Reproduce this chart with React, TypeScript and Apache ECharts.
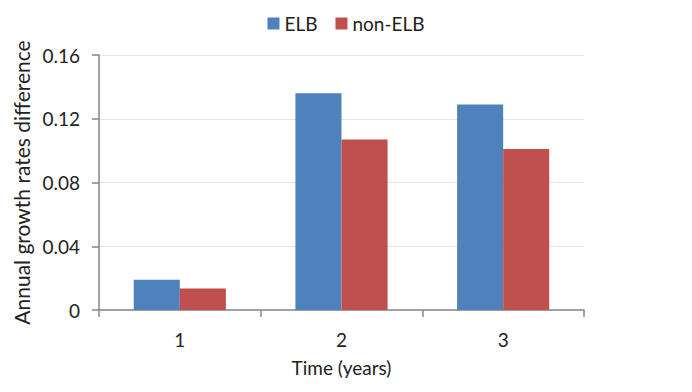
import React, { useEffect, useRef } from "react";
import * as echarts from "echarts";

const categories = ["1", "2", "3"];
const elb = [0.019, 0.136, 0.129];
const nonElb = [0.0135, 0.107, 0.101];
const yTicks = [0, 0.04, 0.08, 0.12, 0.16];

export default function App() {
  const ref = useRef<HTMLDivElement>(null);
  useEffect(() => {
    if (!ref.current) return;
    const chart = echarts.init(ref.current, null, { renderer: "svg" });
    const font = "Lato, 'Open Sans', sans-serif";
    chart.setOption({
      animation: false,
      textStyle: { fontFamily: font },
      legend: {
        top: 1,
        left: "center",
        itemWidth: 12,
        itemHeight: 12,
        itemGap: 18,
        icon: "rect",
        textStyle: { fontSize: 19, color: "#222", fontFamily: font },
        data: ["ELB", "non-ELB"],
      },
      grid: {
        left: 91,
        right: 100,
        top: 47,
        bottom: 74,
        containLabel: false,
        outerBoundsMode: "none",
      },
      xAxis: {
        type: "category",
        data: categories,
        name: "Time (years)",
        nameLocation: "middle",
        nameGap: 48,
        nameTextStyle: { fontSize: 19, color: "#222", fontFamily: font },
        axisLine: { lineStyle: { color: "#868686", width: 1.5 } },
        axisTick: { show: true, length: 7, lineStyle: { color: "#868686", width: 1.5 } },
        axisLabel: { fontSize: 19, color: "#222", margin: 20, fontFamily: font },
      },
      yAxis: {
        type: "value",
        min: yTicks[0],
        max: yTicks[yTicks.length - 1],
        interval: 0.04,
        name: "Annual growth rates difference",
        nameLocation: "middle",
        nameGap: 66,
        nameTextStyle: { fontSize: 21, color: "#222", fontFamily: font },
        axisLine: { show: true, lineStyle: { color: "#868686", width: 1.5 } },
        axisTick: { show: true, length: 7, lineStyle: { color: "#868686", width: 1.5 } },
        axisLabel: {
          fontSize: 19,
          color: "#222",
          margin: 19,
          fontFamily: font,
          formatter: (v: number) => (v === 0 ? "0" : v.toFixed(2)),
        },
        splitLine: { lineStyle: { color: "#E6E6E6", width: 1 } },
      },
      series: [
        {
          name: "ELB",
          type: "bar",
          data: elb,
          itemStyle: { color: "#4F81BD" },
          barGap: "0%",
          barCategoryGap: "43%",
        },
        {
          name: "non-ELB",
          type: "bar",
          data: nonElb,
          itemStyle: { color: "#C0504D" },
          barGap: "0%",
          barCategoryGap: "43%",
        },
      ],
    });
    return () => chart.dispose();
  }, []);
  return <div ref={ref} style={{ width: 676, height: 376 }} />;
}
